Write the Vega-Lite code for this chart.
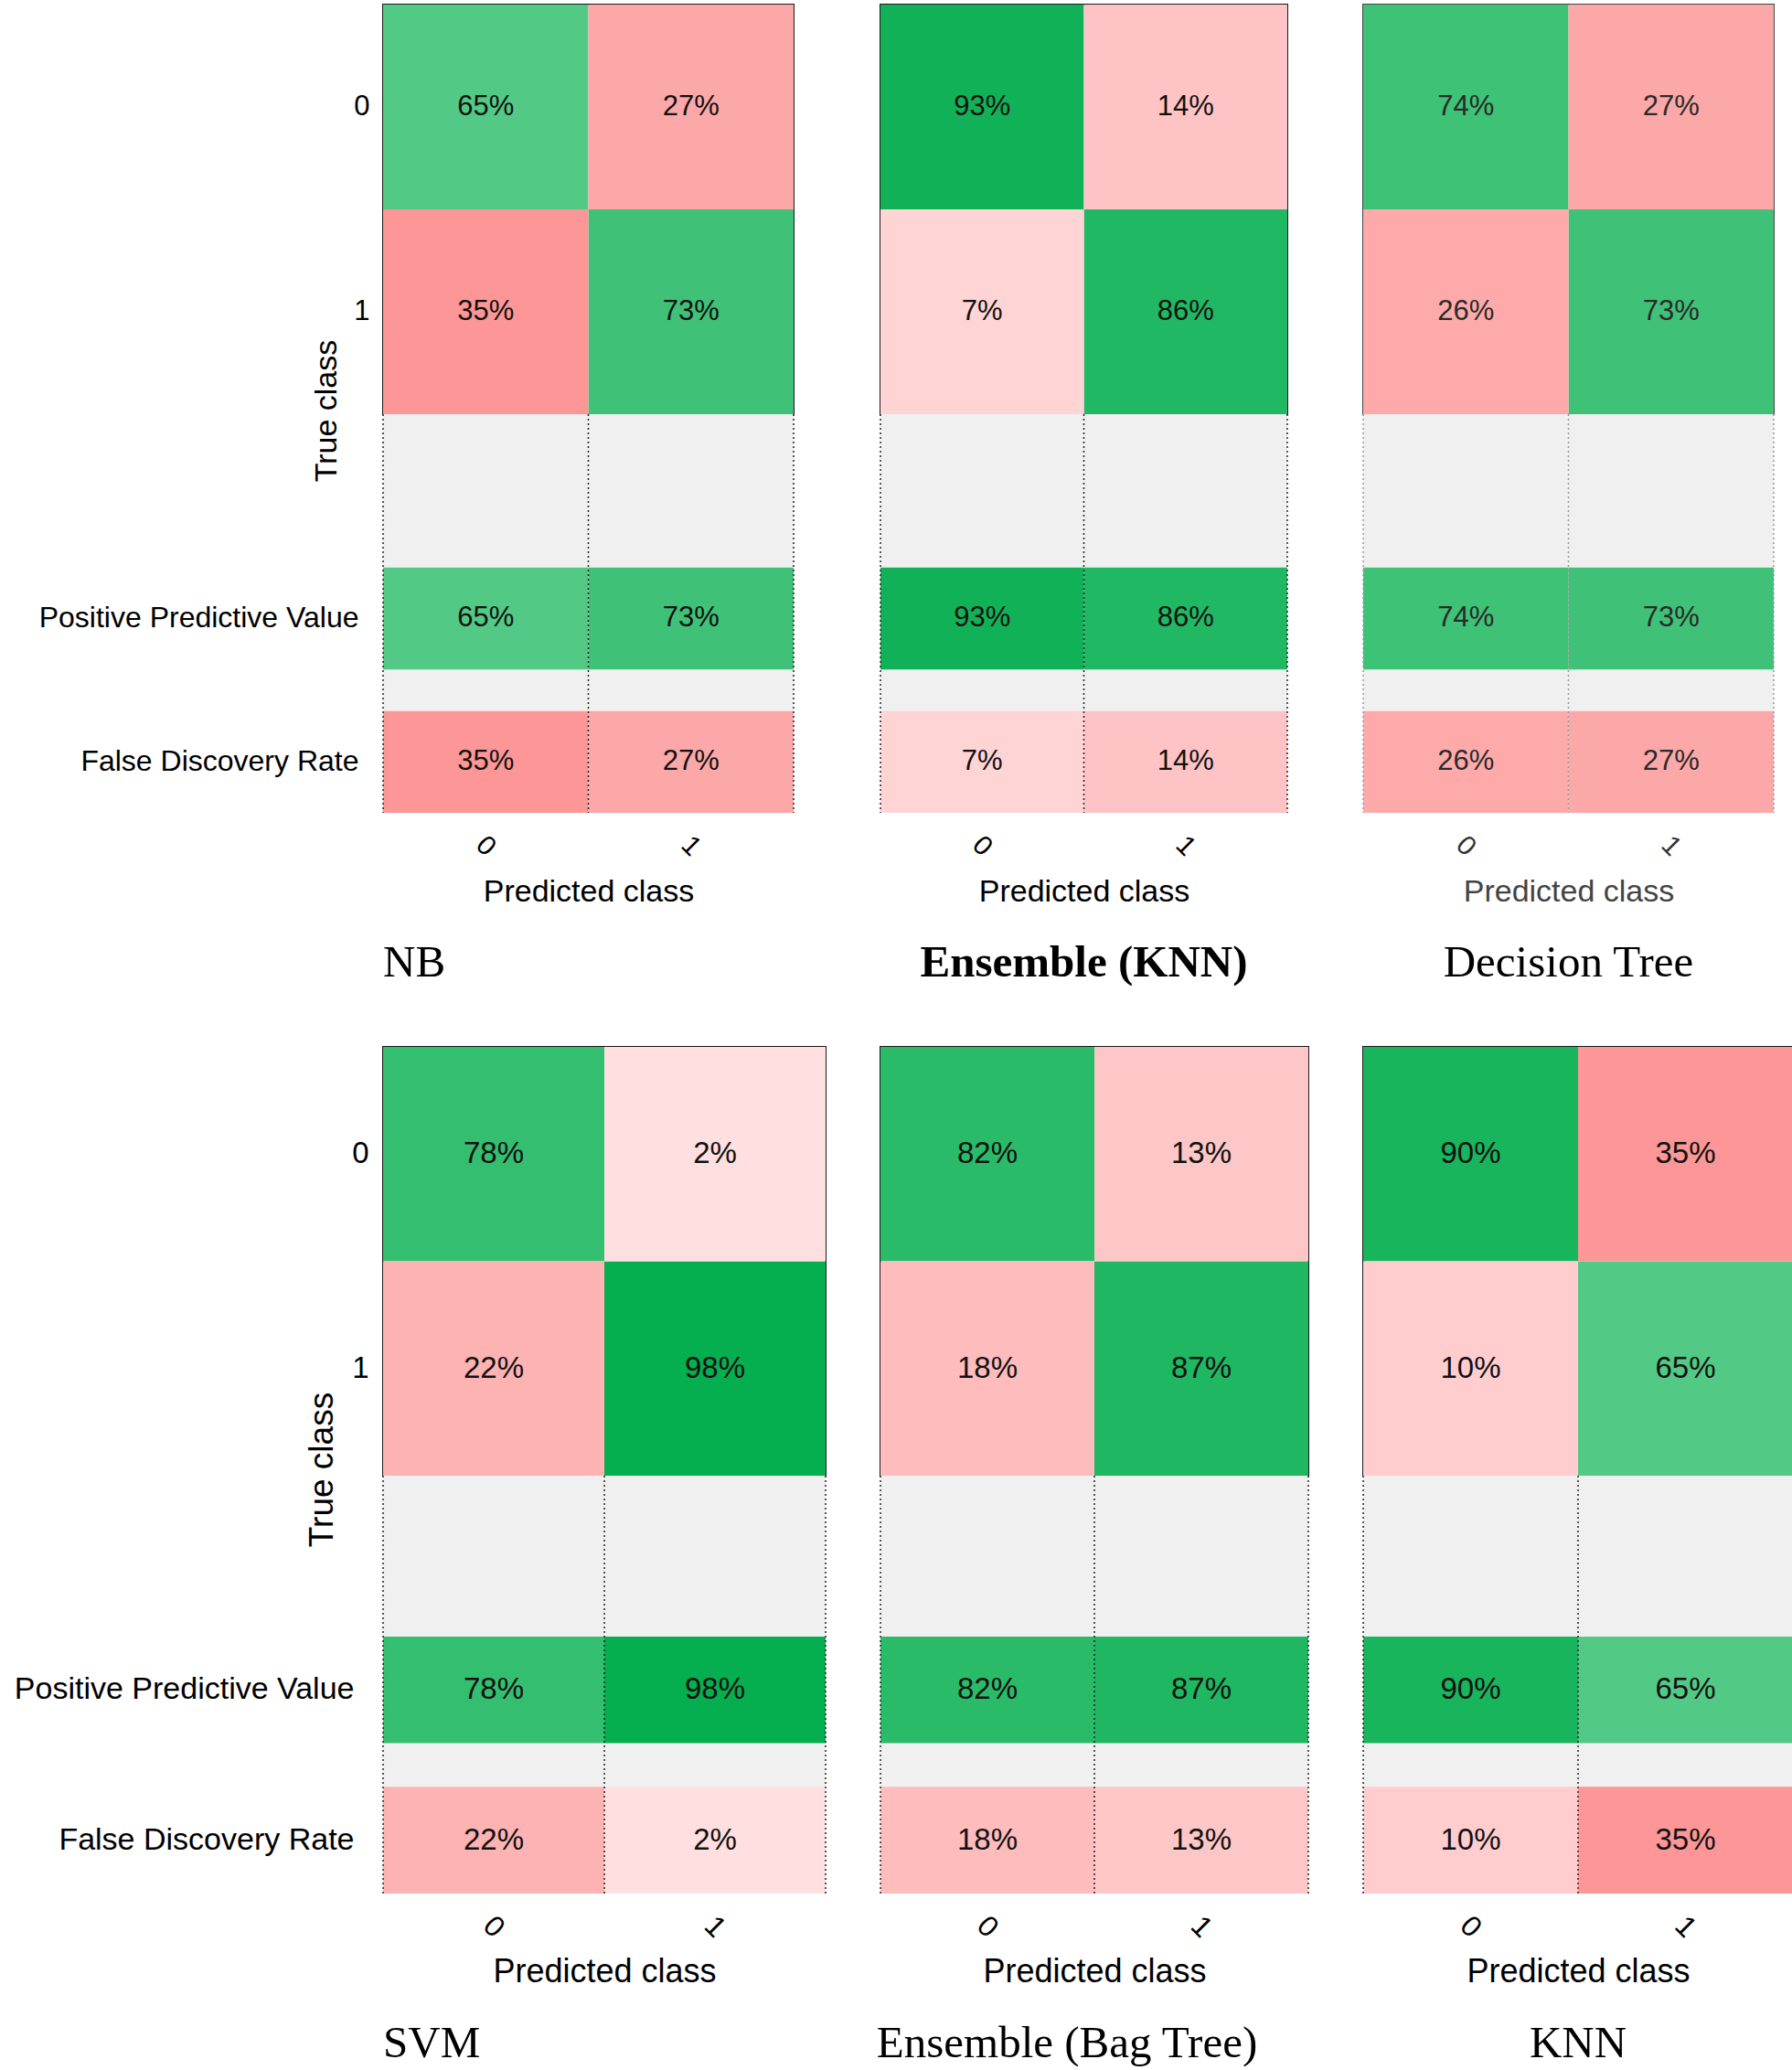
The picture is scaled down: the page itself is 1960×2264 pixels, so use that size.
{
  "$schema": "https://vega.github.io/schema/vega-lite/v6.json",
  "padding": {"left": 15, "top": 4, "right": 0, "bottom": 0},
  "background": "white",
  "config": {
    "view": {"stroke": null},
    "axis": {"grid": false, "ticks": false, "domain": false, "labelColor": "#000", "titleColor": "#000", "labelFont": "Liberation Sans", "titleFont": "Liberation Sans", "titleFontWeight": "normal"},
    "scale": {"rectBandPaddingInner": 0, "bandPaddingInner": 0, "bandPaddingOuter": 0},
    "title": {"orient": "bottom", "font": "Liberation Serif", "fontSize": 49, "fontWeight": "normal", "color": "#000", "offset": 36, "anchor": "middle"},
    "text": {"font": "Liberation Sans", "color": "#111"}
  },
  "datasets": {
    "cm": [
      {"model": "NB", "actual": "0", "pred": "0", "share": 0.65},
      {"model": "NB", "actual": "0", "pred": "1", "share": 0.27},
      {"model": "NB", "actual": "1", "pred": "0", "share": 0.35},
      {"model": "NB", "actual": "1", "pred": "1", "share": 0.73},
      {"model": "Ensemble (KNN)", "actual": "0", "pred": "0", "share": 0.93},
      {"model": "Ensemble (KNN)", "actual": "0", "pred": "1", "share": 0.14},
      {"model": "Ensemble (KNN)", "actual": "1", "pred": "0", "share": 0.07},
      {"model": "Ensemble (KNN)", "actual": "1", "pred": "1", "share": 0.86},
      {"model": "Decision Tree", "actual": "0", "pred": "0", "share": 0.74},
      {"model": "Decision Tree", "actual": "0", "pred": "1", "share": 0.27},
      {"model": "Decision Tree", "actual": "1", "pred": "0", "share": 0.26},
      {"model": "Decision Tree", "actual": "1", "pred": "1", "share": 0.73},
      {"model": "SVM", "actual": "0", "pred": "0", "share": 0.78},
      {"model": "SVM", "actual": "0", "pred": "1", "share": 0.02},
      {"model": "SVM", "actual": "1", "pred": "0", "share": 0.22},
      {"model": "SVM", "actual": "1", "pred": "1", "share": 0.98},
      {"model": "Ensemble (Bag Tree)", "actual": "0", "pred": "0", "share": 0.82},
      {"model": "Ensemble (Bag Tree)", "actual": "0", "pred": "1", "share": 0.13},
      {"model": "Ensemble (Bag Tree)", "actual": "1", "pred": "0", "share": 0.18},
      {"model": "Ensemble (Bag Tree)", "actual": "1", "pred": "1", "share": 0.87},
      {"model": "KNN", "actual": "0", "pred": "0", "share": 0.90},
      {"model": "KNN", "actual": "0", "pred": "1", "share": 0.35},
      {"model": "KNN", "actual": "1", "pred": "0", "share": 0.10},
      {"model": "KNN", "actual": "1", "pred": "1", "share": 0.65}
    ],
    "pv": [
      {"model": "NB", "metric": "Positive Predictive Value", "pred": "0", "share": 0.65},
      {"model": "NB", "metric": "Positive Predictive Value", "pred": "1", "share": 0.73},
      {"model": "NB", "metric": "False Discovery Rate", "pred": "0", "share": 0.35},
      {"model": "NB", "metric": "False Discovery Rate", "pred": "1", "share": 0.27},
      {"model": "Ensemble (KNN)", "metric": "Positive Predictive Value", "pred": "0", "share": 0.93},
      {"model": "Ensemble (KNN)", "metric": "Positive Predictive Value", "pred": "1", "share": 0.86},
      {"model": "Ensemble (KNN)", "metric": "False Discovery Rate", "pred": "0", "share": 0.07},
      {"model": "Ensemble (KNN)", "metric": "False Discovery Rate", "pred": "1", "share": 0.14},
      {"model": "Decision Tree", "metric": "Positive Predictive Value", "pred": "0", "share": 0.74},
      {"model": "Decision Tree", "metric": "Positive Predictive Value", "pred": "1", "share": 0.73},
      {"model": "Decision Tree", "metric": "False Discovery Rate", "pred": "0", "share": 0.26},
      {"model": "Decision Tree", "metric": "False Discovery Rate", "pred": "1", "share": 0.27},
      {"model": "SVM", "metric": "Positive Predictive Value", "pred": "0", "share": 0.78},
      {"model": "SVM", "metric": "Positive Predictive Value", "pred": "1", "share": 0.98},
      {"model": "SVM", "metric": "False Discovery Rate", "pred": "0", "share": 0.22},
      {"model": "SVM", "metric": "False Discovery Rate", "pred": "1", "share": 0.02},
      {"model": "Ensemble (Bag Tree)", "metric": "Positive Predictive Value", "pred": "0", "share": 0.82},
      {"model": "Ensemble (Bag Tree)", "metric": "Positive Predictive Value", "pred": "1", "share": 0.87},
      {"model": "Ensemble (Bag Tree)", "metric": "False Discovery Rate", "pred": "0", "share": 0.18},
      {"model": "Ensemble (Bag Tree)", "metric": "False Discovery Rate", "pred": "1", "share": 0.13},
      {"model": "KNN", "metric": "Positive Predictive Value", "pred": "0", "share": 0.90},
      {"model": "KNN", "metric": "Positive Predictive Value", "pred": "1", "share": 0.65},
      {"model": "KNN", "metric": "False Discovery Rate", "pred": "0", "share": 0.10},
      {"model": "KNN", "metric": "False Discovery Rate", "pred": "1", "share": 0.35}
    ]
  },
  "columns": 3,
  "align": "each",
  "bounds": "flush",
  "spacing": {"row": 0, "column": 60},
  "concat": [
    {
      "width": 449, "height": 448,
      "data": {"name": "cm"},
      "transform": [{"filter": "datum.model === 'NB'"}],
      "view": {"stroke": "#1a1a1a", "strokeWidth": 2},
      "encoding": {
        "x": {"field": "pred", "type": "nominal", "axis": null},
        "y": {"field": "actual", "type": "nominal", "axis": {"title": "True class", "labelAngle": 0, "labelFontSize": 31, "labelPadding": 15, "titleFontSize": 34, "titleX": -62, "titleY": 444, "titleAngle": -90, "titleAlign": "center", "titleBaseline": "middle"}}
      },
      "layer": [
        {"transform": [{"filter": "datum.actual === datum.pred"}], "mark": "rect", "encoding": {"color": {"field": "share", "type": "quantitative", "legend": null, "scale": {"domain": [0.65, 0.98], "range": ["#52c985", "#05ae4f"], "interpolate": "rgb"}}}},
        {"transform": [{"filter": "datum.actual !== datum.pred"}], "mark": "rect", "encoding": {"fill": {"field": "share", "type": "quantitative", "legend": null, "scale": {"domain": [0.02, 0.35], "range": ["#ffdfe0", "#fd9696"], "interpolate": "rgb"}}}},
        {"mark": {"type": "text", "fontSize": 31}, "encoding": {"text": {"field": "share", "type": "quantitative", "format": ".0%"}}}
      ]
    },
    {
      "width": 445, "height": 448,
      "data": {"name": "cm"},
      "transform": [{"filter": "datum.model === 'Ensemble (KNN)'"}],
      "view": {"stroke": "#1a1a1a", "strokeWidth": 2},
      "encoding": {
        "x": {"field": "pred", "type": "nominal", "axis": null},
        "y": {"field": "actual", "type": "nominal", "axis": null}
      },
      "layer": [
        {"transform": [{"filter": "datum.actual === datum.pred"}], "mark": "rect", "encoding": {"color": {"field": "share", "type": "quantitative", "legend": null, "scale": {"domain": [0.65, 0.98], "range": ["#52c985", "#05ae4f"], "interpolate": "rgb"}}}},
        {"transform": [{"filter": "datum.actual !== datum.pred"}], "mark": "rect", "encoding": {"fill": {"field": "share", "type": "quantitative", "legend": null, "scale": {"domain": [0.02, 0.35], "range": ["#ffdfe0", "#fd9696"], "interpolate": "rgb"}}}},
        {"mark": {"type": "text", "fontSize": 31}, "encoding": {"text": {"field": "share", "type": "quantitative", "format": ".0%"}}}
      ]
    },
    {
      "width": 449, "height": 448,
      "data": {"name": "cm"},
      "transform": [{"filter": "datum.model === 'Decision Tree'"}],
      "view": {"stroke": "#444", "strokeWidth": 2},
      "encoding": {
        "x": {"field": "pred", "type": "nominal", "axis": null},
        "y": {"field": "actual", "type": "nominal", "axis": null}
      },
      "layer": [
        {"transform": [{"filter": "datum.actual === datum.pred"}], "mark": "rect", "encoding": {"color": {"field": "share", "type": "quantitative", "legend": null, "scale": {"domain": [0.65, 0.98], "range": ["#52c985", "#05ae4f"], "interpolate": "rgb"}}}},
        {"transform": [{"filter": "datum.actual !== datum.pred"}], "mark": "rect", "encoding": {"fill": {"field": "share", "type": "quantitative", "legend": null, "scale": {"domain": [0.02, 0.35], "range": ["#ffdfe0", "#fd9696"], "interpolate": "rgb"}}}},
        {"mark": {"type": "text", "fontSize": 31, "color": "#2a2a2a"}, "encoding": {"text": {"field": "share", "type": "quantitative", "format": ".0%"}}}
      ]
    },
    {
      "width": 449, "height": 436,
      "data": {"name": "pv"},
      "transform": [{"filter": "datum.model === 'NB'"}],
      "view": {"fill": "#f0f0f0", "stroke": null},
      "title": {"text": "NB", "anchor": "start", "frame": "group"},
      "encoding": {
        "x": {"field": "pred", "type": "nominal", "axis": {"title": "Predicted class", "labelAngle": 45, "labelAlign": "center", "labelBaseline": "middle", "labelPadding": 36, "labelFontSize": 30, "titleFontSize": 34, "titlePadding": 17}}
      },
      "layer": [
        {"transform": [{"filter": "datum.metric === 'Positive Predictive Value'"}], "mark": "rect", "encoding": {
          "y": {"field": "metric", "type": "nominal", "scale": {"domain": ["Positive Predictive Value", "False Discovery Rate"], "paddingInner": 0.29, "paddingOuter": 0.535, "align": 1}, "axis": {"title": null, "labelFontSize": 32, "labelPadding": 27, "labelLimit": 0}},
          "color": {"field": "share", "type": "quantitative", "legend": null, "scale": {"domain": [0.65, 0.98], "range": ["#52c985", "#05ae4f"], "interpolate": "rgb"}}}},
        {"transform": [{"filter": "datum.metric === 'False Discovery Rate'"}], "mark": "rect", "encoding": {
          "y": {"field": "metric", "type": "nominal", "scale": {"domain": ["Positive Predictive Value", "False Discovery Rate"], "paddingInner": 0.29, "paddingOuter": 0.535, "align": 1}, "axis": {"title": null, "labelFontSize": 32, "labelPadding": 27, "labelLimit": 0}},
          "fill": {"field": "share", "type": "quantitative", "legend": null, "scale": {"domain": [0.02, 0.35], "range": ["#ffdfe0", "#fd9696"], "interpolate": "rgb"}}}},
        {"transform": [{"filter": "datum.metric === 'Positive Predictive Value'"}], "mark": {"type": "rule", "color": "#222", "strokeDash": [2, 3], "strokeWidth": 1.5}, "encoding": {"x": {"field": "pred", "type": "nominal", "bandPosition": 0}}},
        {"transform": [{"filter": "datum.metric === 'Positive Predictive Value' && datum.pred === '1'"}], "mark": {"type": "rule", "color": "#222", "strokeDash": [2, 3], "strokeWidth": 1.5}, "encoding": {"x": {"field": "pred", "type": "nominal", "bandPosition": 1}}},
        {"mark": {"type": "text", "fontSize": 31}, "encoding": {
          "y": {"field": "metric", "type": "nominal", "scale": {"domain": ["Positive Predictive Value", "False Discovery Rate"], "paddingInner": 0.29, "paddingOuter": 0.535, "align": 1}, "axis": {"title": null, "labelFontSize": 32, "labelPadding": 27, "labelLimit": 0}},
          "text": {"field": "share", "type": "quantitative", "format": ".0%"}}}
      ]
    },
    {
      "width": 445, "height": 436,
      "data": {"name": "pv"},
      "transform": [{"filter": "datum.model === 'Ensemble (KNN)'"}],
      "view": {"fill": "#f0f0f0", "stroke": null},
      "title": {"text": "Ensemble (KNN)", "fontWeight": "bold"},
      "encoding": {
        "x": {"field": "pred", "type": "nominal", "axis": {"title": "Predicted class", "labelAngle": 45, "labelAlign": "center", "labelBaseline": "middle", "labelPadding": 36, "labelFontSize": 30, "titleFontSize": 34, "titlePadding": 17}}
      },
      "layer": [
        {"transform": [{"filter": "datum.metric === 'Positive Predictive Value'"}], "mark": "rect", "encoding": {
          "y": {"field": "metric", "type": "nominal", "scale": {"domain": ["Positive Predictive Value", "False Discovery Rate"], "paddingInner": 0.29, "paddingOuter": 0.535, "align": 1}, "axis": null},
          "color": {"field": "share", "type": "quantitative", "legend": null, "scale": {"domain": [0.65, 0.98], "range": ["#52c985", "#05ae4f"], "interpolate": "rgb"}}}},
        {"transform": [{"filter": "datum.metric === 'False Discovery Rate'"}], "mark": "rect", "encoding": {
          "y": {"field": "metric", "type": "nominal", "scale": {"domain": ["Positive Predictive Value", "False Discovery Rate"], "paddingInner": 0.29, "paddingOuter": 0.535, "align": 1}, "axis": null},
          "fill": {"field": "share", "type": "quantitative", "legend": null, "scale": {"domain": [0.02, 0.35], "range": ["#ffdfe0", "#fd9696"], "interpolate": "rgb"}}}},
        {"transform": [{"filter": "datum.metric === 'Positive Predictive Value'"}], "mark": {"type": "rule", "color": "#222", "strokeDash": [2, 3], "strokeWidth": 1.5}, "encoding": {"x": {"field": "pred", "type": "nominal", "bandPosition": 0}}},
        {"transform": [{"filter": "datum.metric === 'Positive Predictive Value' && datum.pred === '1'"}], "mark": {"type": "rule", "color": "#222", "strokeDash": [2, 3], "strokeWidth": 1.5}, "encoding": {"x": {"field": "pred", "type": "nominal", "bandPosition": 1}}},
        {"mark": {"type": "text", "fontSize": 31}, "encoding": {
          "y": {"field": "metric", "type": "nominal", "scale": {"domain": ["Positive Predictive Value", "False Discovery Rate"], "paddingInner": 0.29, "paddingOuter": 0.535, "align": 1}, "axis": null},
          "text": {"field": "share", "type": "quantitative", "format": ".0%"}}}
      ]
    },
    {
      "width": 449, "height": 436,
      "data": {"name": "pv"},
      "transform": [{"filter": "datum.model === 'Decision Tree'"}],
      "view": {"fill": "#f0f0f0", "stroke": null},
      "title": {"text": "Decision Tree"},
      "encoding": {
        "x": {"field": "pred", "type": "nominal", "axis": {"title": "Predicted class", "labelAngle": 45, "labelAlign": "center", "labelBaseline": "middle", "labelPadding": 36, "labelFontSize": 30, "titleFontSize": 34, "titlePadding": 17, "titleColor": "#444", "labelColor": "#333"}}
      },
      "layer": [
        {"transform": [{"filter": "datum.metric === 'Positive Predictive Value'"}], "mark": "rect", "encoding": {
          "y": {"field": "metric", "type": "nominal", "scale": {"domain": ["Positive Predictive Value", "False Discovery Rate"], "paddingInner": 0.29, "paddingOuter": 0.535, "align": 1}, "axis": null},
          "color": {"field": "share", "type": "quantitative", "legend": null, "scale": {"domain": [0.65, 0.98], "range": ["#52c985", "#05ae4f"], "interpolate": "rgb"}}}},
        {"transform": [{"filter": "datum.metric === 'False Discovery Rate'"}], "mark": "rect", "encoding": {
          "y": {"field": "metric", "type": "nominal", "scale": {"domain": ["Positive Predictive Value", "False Discovery Rate"], "paddingInner": 0.29, "paddingOuter": 0.535, "align": 1}, "axis": null},
          "fill": {"field": "share", "type": "quantitative", "legend": null, "scale": {"domain": [0.02, 0.35], "range": ["#ffdfe0", "#fd9696"], "interpolate": "rgb"}}}},
        {"transform": [{"filter": "datum.metric === 'Positive Predictive Value'"}], "mark": {"type": "rule", "color": "#999", "strokeDash": [2, 3], "strokeWidth": 1.5}, "encoding": {"x": {"field": "pred", "type": "nominal", "bandPosition": 0}}},
        {"transform": [{"filter": "datum.metric === 'Positive Predictive Value' && datum.pred === '1'"}], "mark": {"type": "rule", "color": "#999", "strokeDash": [2, 3], "strokeWidth": 1.5}, "encoding": {"x": {"field": "pred", "type": "nominal", "bandPosition": 1}}},
        {"mark": {"type": "text", "fontSize": 31, "color": "#2a2a2a"}, "encoding": {
          "y": {"field": "metric", "type": "nominal", "scale": {"domain": ["Positive Predictive Value", "False Discovery Rate"], "paddingInner": 0.29, "paddingOuter": 0.535, "align": 1}, "axis": null},
          "text": {"field": "share", "type": "quantitative", "format": ".0%"}}}
      ]
    },
    {"width": 10, "height": 256, "data": {"values": []}, "mark": "rect", "encoding": {}},
    {"width": 10, "height": 256, "data": {"values": []}, "mark": "rect", "encoding": {}},
    {"width": 10, "height": 256, "data": {"values": []}, "mark": "rect", "encoding": {}},
    {
      "width": 484, "height": 469,
      "data": {"name": "cm"},
      "transform": [{"filter": "datum.model === 'SVM'"}],
      "view": {"stroke": "#1a1a1a", "strokeWidth": 2},
      "encoding": {
        "x": {"field": "pred", "type": "nominal", "axis": null},
        "y": {"field": "actual", "type": "nominal", "axis": {"title": "True class", "labelAngle": 0, "labelFontSize": 33, "labelPadding": 16, "titleFontSize": 37, "titleX": -67, "titleY": 462, "titleAngle": -90, "titleAlign": "center", "titleBaseline": "middle"}}
      },
      "layer": [
        {"transform": [{"filter": "datum.actual === datum.pred"}], "mark": "rect", "encoding": {"color": {"field": "share", "type": "quantitative", "legend": null, "scale": {"domain": [0.65, 0.98], "range": ["#52c985", "#05ae4f"], "interpolate": "rgb"}}}},
        {"transform": [{"filter": "datum.actual !== datum.pred"}], "mark": "rect", "encoding": {"fill": {"field": "share", "type": "quantitative", "legend": null, "scale": {"domain": [0.02, 0.35], "range": ["#ffdfe0", "#fd9696"], "interpolate": "rgb"}}}},
        {"mark": {"type": "text", "fontSize": 33}, "encoding": {"text": {"field": "share", "type": "quantitative", "format": ".0%"}}}
      ]
    },
    {
      "width": 468, "height": 469,
      "data": {"name": "cm"},
      "transform": [{"filter": "datum.model === 'Ensemble (Bag Tree)'"}],
      "view": {"stroke": "#1a1a1a", "strokeWidth": 2},
      "encoding": {
        "x": {"field": "pred", "type": "nominal", "axis": null},
        "y": {"field": "actual", "type": "nominal", "axis": null}
      },
      "layer": [
        {"transform": [{"filter": "datum.actual === datum.pred"}], "mark": "rect", "encoding": {"color": {"field": "share", "type": "quantitative", "legend": null, "scale": {"domain": [0.65, 0.98], "range": ["#52c985", "#05ae4f"], "interpolate": "rgb"}}}},
        {"transform": [{"filter": "datum.actual !== datum.pred"}], "mark": "rect", "encoding": {"fill": {"field": "share", "type": "quantitative", "legend": null, "scale": {"domain": [0.02, 0.35], "range": ["#ffdfe0", "#fd9696"], "interpolate": "rgb"}}}},
        {"mark": {"type": "text", "fontSize": 33}, "encoding": {"text": {"field": "share", "type": "quantitative", "format": ".0%"}}}
      ]
    },
    {
      "width": 470, "height": 469,
      "data": {"name": "cm"},
      "transform": [{"filter": "datum.model === 'KNN'"}],
      "view": {"stroke": "#1a1a1a", "strokeWidth": 2},
      "encoding": {
        "x": {"field": "pred", "type": "nominal", "axis": null},
        "y": {"field": "actual", "type": "nominal", "axis": null}
      },
      "layer": [
        {"transform": [{"filter": "datum.actual === datum.pred"}], "mark": "rect", "encoding": {"color": {"field": "share", "type": "quantitative", "legend": null, "scale": {"domain": [0.65, 0.98], "range": ["#52c985", "#05ae4f"], "interpolate": "rgb"}}}},
        {"transform": [{"filter": "datum.actual !== datum.pred"}], "mark": "rect", "encoding": {"fill": {"field": "share", "type": "quantitative", "legend": null, "scale": {"domain": [0.02, 0.35], "range": ["#ffdfe0", "#fd9696"], "interpolate": "rgb"}}}},
        {"mark": {"type": "text", "fontSize": 33}, "encoding": {"text": {"field": "share", "type": "quantitative", "format": ".0%"}}}
      ]
    },
    {
      "width": 484, "height": 457,
      "data": {"name": "pv"},
      "transform": [{"filter": "datum.model === 'SVM'"}],
      "view": {"fill": "#f0f0f0", "stroke": null},
      "title": {"text": "SVM", "anchor": "start", "frame": "group"},
      "encoding": {
        "x": {"field": "pred", "type": "nominal", "axis": {"title": "Predicted class", "labelAngle": 45, "labelAlign": "center", "labelBaseline": "middle", "labelPadding": 36, "labelFontSize": 32, "titleFontSize": 36, "titlePadding": 15}}
      },
      "layer": [
        {"transform": [{"filter": "datum.metric === 'Positive Predictive Value'"}], "mark": "rect", "encoding": {
          "y": {"field": "metric", "type": "nominal", "scale": {"domain": ["Positive Predictive Value", "False Discovery Rate"], "paddingInner": 0.29, "paddingOuter": 0.535, "align": 1}, "axis": {"title": null, "labelFontSize": 34, "labelPadding": 32, "labelLimit": 0}},
          "color": {"field": "share", "type": "quantitative", "legend": null, "scale": {"domain": [0.65, 0.98], "range": ["#52c985", "#05ae4f"], "interpolate": "rgb"}}}},
        {"transform": [{"filter": "datum.metric === 'False Discovery Rate'"}], "mark": "rect", "encoding": {
          "y": {"field": "metric", "type": "nominal", "scale": {"domain": ["Positive Predictive Value", "False Discovery Rate"], "paddingInner": 0.29, "paddingOuter": 0.535, "align": 1}, "axis": {"title": null, "labelFontSize": 34, "labelPadding": 32, "labelLimit": 0}},
          "fill": {"field": "share", "type": "quantitative", "legend": null, "scale": {"domain": [0.02, 0.35], "range": ["#ffdfe0", "#fd9696"], "interpolate": "rgb"}}}},
        {"transform": [{"filter": "datum.metric === 'Positive Predictive Value'"}], "mark": {"type": "rule", "color": "#222", "strokeDash": [2, 3], "strokeWidth": 1.5}, "encoding": {"x": {"field": "pred", "type": "nominal", "bandPosition": 0}}},
        {"transform": [{"filter": "datum.metric === 'Positive Predictive Value' && datum.pred === '1'"}], "mark": {"type": "rule", "color": "#222", "strokeDash": [2, 3], "strokeWidth": 1.5}, "encoding": {"x": {"field": "pred", "type": "nominal", "bandPosition": 1}}},
        {"mark": {"type": "text", "fontSize": 33}, "encoding": {
          "y": {"field": "metric", "type": "nominal", "scale": {"domain": ["Positive Predictive Value", "False Discovery Rate"], "paddingInner": 0.29, "paddingOuter": 0.535, "align": 1}, "axis": {"title": null, "labelFontSize": 34, "labelPadding": 32, "labelLimit": 0}},
          "text": {"field": "share", "type": "quantitative", "format": ".0%"}}}
      ]
    },
    {
      "width": 468, "height": 457,
      "data": {"name": "pv"},
      "transform": [{"filter": "datum.model === 'Ensemble (Bag Tree)'"}],
      "view": {"fill": "#f0f0f0", "stroke": null},
      "title": {"text": "Ensemble (Bag Tree)", "dx": -30},
      "encoding": {
        "x": {"field": "pred", "type": "nominal", "axis": {"title": "Predicted class", "labelAngle": 45, "labelAlign": "center", "labelBaseline": "middle", "labelPadding": 36, "labelFontSize": 32, "titleFontSize": 36, "titlePadding": 15}}
      },
      "layer": [
        {"transform": [{"filter": "datum.metric === 'Positive Predictive Value'"}], "mark": "rect", "encoding": {
          "y": {"field": "metric", "type": "nominal", "scale": {"domain": ["Positive Predictive Value", "False Discovery Rate"], "paddingInner": 0.29, "paddingOuter": 0.535, "align": 1}, "axis": null},
          "color": {"field": "share", "type": "quantitative", "legend": null, "scale": {"domain": [0.65, 0.98], "range": ["#52c985", "#05ae4f"], "interpolate": "rgb"}}}},
        {"transform": [{"filter": "datum.metric === 'False Discovery Rate'"}], "mark": "rect", "encoding": {
          "y": {"field": "metric", "type": "nominal", "scale": {"domain": ["Positive Predictive Value", "False Discovery Rate"], "paddingInner": 0.29, "paddingOuter": 0.535, "align": 1}, "axis": null},
          "fill": {"field": "share", "type": "quantitative", "legend": null, "scale": {"domain": [0.02, 0.35], "range": ["#ffdfe0", "#fd9696"], "interpolate": "rgb"}}}},
        {"transform": [{"filter": "datum.metric === 'Positive Predictive Value'"}], "mark": {"type": "rule", "color": "#222", "strokeDash": [2, 3], "strokeWidth": 1.5}, "encoding": {"x": {"field": "pred", "type": "nominal", "bandPosition": 0}}},
        {"transform": [{"filter": "datum.metric === 'Positive Predictive Value' && datum.pred === '1'"}], "mark": {"type": "rule", "color": "#222", "strokeDash": [2, 3], "strokeWidth": 1.5}, "encoding": {"x": {"field": "pred", "type": "nominal", "bandPosition": 1}}},
        {"mark": {"type": "text", "fontSize": 33}, "encoding": {
          "y": {"field": "metric", "type": "nominal", "scale": {"domain": ["Positive Predictive Value", "False Discovery Rate"], "paddingInner": 0.29, "paddingOuter": 0.535, "align": 1}, "axis": null},
          "text": {"field": "share", "type": "quantitative", "format": ".0%"}}}
      ]
    },
    {
      "width": 470, "height": 457,
      "data": {"name": "pv"},
      "transform": [{"filter": "datum.model === 'KNN'"}],
      "view": {"fill": "#f0f0f0", "stroke": null},
      "title": {"text": "KNN"},
      "encoding": {
        "x": {"field": "pred", "type": "nominal", "axis": {"title": "Predicted class", "labelAngle": 45, "labelAlign": "center", "labelBaseline": "middle", "labelPadding": 36, "labelFontSize": 32, "titleFontSize": 36, "titlePadding": 15}}
      },
      "layer": [
        {"transform": [{"filter": "datum.metric === 'Positive Predictive Value'"}], "mark": "rect", "encoding": {
          "y": {"field": "metric", "type": "nominal", "scale": {"domain": ["Positive Predictive Value", "False Discovery Rate"], "paddingInner": 0.29, "paddingOuter": 0.535, "align": 1}, "axis": null},
          "color": {"field": "share", "type": "quantitative", "legend": null, "scale": {"domain": [0.65, 0.98], "range": ["#52c985", "#05ae4f"], "interpolate": "rgb"}}}},
        {"transform": [{"filter": "datum.metric === 'False Discovery Rate'"}], "mark": "rect", "encoding": {
          "y": {"field": "metric", "type": "nominal", "scale": {"domain": ["Positive Predictive Value", "False Discovery Rate"], "paddingInner": 0.29, "paddingOuter": 0.535, "align": 1}, "axis": null},
          "fill": {"field": "share", "type": "quantitative", "legend": null, "scale": {"domain": [0.02, 0.35], "range": ["#ffdfe0", "#fd9696"], "interpolate": "rgb"}}}},
        {"transform": [{"filter": "datum.metric === 'Positive Predictive Value'"}], "mark": {"type": "rule", "color": "#222", "strokeDash": [2, 3], "strokeWidth": 1.5}, "encoding": {"x": {"field": "pred", "type": "nominal", "bandPosition": 0}}},
        {"transform": [{"filter": "datum.metric === 'Positive Predictive Value' && datum.pred === '1'"}], "mark": {"type": "rule", "color": "#222", "strokeDash": [2, 3], "strokeWidth": 1.5}, "encoding": {"x": {"field": "pred", "type": "nominal", "bandPosition": 1}}},
        {"mark": {"type": "text", "fontSize": 33}, "encoding": {
          "y": {"field": "metric", "type": "nominal", "scale": {"domain": ["Positive Predictive Value", "False Discovery Rate"], "paddingInner": 0.29, "paddingOuter": 0.535, "align": 1}, "axis": null},
          "text": {"field": "share", "type": "quantitative", "format": ".0%"}}}
      ]
    }
  ]
}
